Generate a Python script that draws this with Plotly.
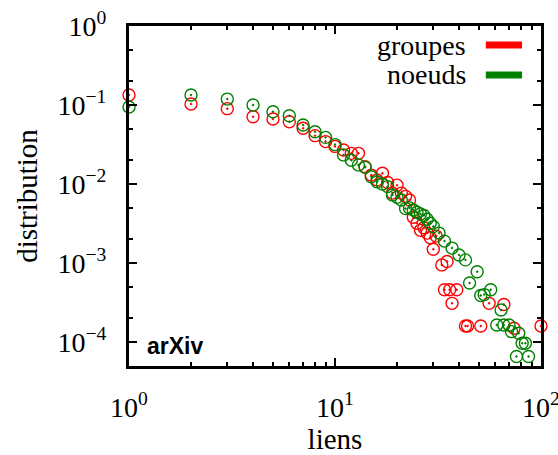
import plotly.graph_objects as go

# ---- data ----
groupes_name = "groupes"
noeuds_name = "noeuds"

groupes_x = [1, 2, 3, 4, 5, 6, 7, 8, 9, 10, 11, 12, 13, 14, 15, 16, 17, 18, 19, 20,
             21, 22, 23, 24, 25, 26, 27, 28, 29, 30, 31, 33, 34, 35, 36, 37, 39,
             43, 44, 51, 56, 66, 74, 100]
groupes_y = [0.134, 0.103, 0.090, 0.0712, 0.0666, 0.0616, 0.0508, 0.041, 0.0345, 0.030,
             0.027, 0.0245, 0.0245, 0.0166, 0.013, 0.0113, 0.0137, 0.0105, 0.0077, 0.0097,
             0.0077, 0.0070, 0.0063, 0.0038, 0.0032, 0.0026, 0.0028, 0.0024, 0.0021, 0.0015,
             0.0022, 0.00095, 0.00046, 0.00105, 0.00046, 0.00031, 0.00046,
             0.00016, 0.00016, 0.00016, 0.00031, 0.00030, 0.00015, 0.00016]

noeuds_x = [1, 2, 3, 4, 5, 6, 7, 8, 9, 10, 11, 12, 13, 14, 15, 16, 17, 18, 19, 20,
            21, 22, 23, 24, 25, 26, 27, 28, 29, 30, 32, 34, 37, 40, 43, 45, 49, 51,
            53, 57, 61, 64, 66, 70, 72, 76, 78, 81, 84, 87]
noeuds_y = [0.0945, 0.134, 0.119, 0.100, 0.0824, 0.0733, 0.056, 0.046, 0.039, 0.0316,
            0.0234, 0.020, 0.0175, 0.0163, 0.0124, 0.0107, 0.0100, 0.0093, 0.0073, 0.0068,
            0.0063, 0.0049, 0.0050, 0.0047, 0.0044, 0.0042, 0.0040, 0.0036, 0.0032, 0.0029,
            0.0024, 0.0019, 0.00155, 0.00127, 0.0011, 0.00056, 0.00078, 0.00039,
            0.0004, 0.00046, 0.000165, 0.000256, 0.000165, 0.000165, 0.000136, 0.000066,
            0.00013, 0.000097, 0.000097, 0.000066]

x_tickvals = [1, 10, 100]
x_ticktext = ["10<sup>0</sup>", "10<sup>1</sup>", "10<sup>2</sup>"]
y_tickvals = [1, 0.1, 0.01, 0.001, 0.0001]
y_ticktext = ["10<sup>0</sup>", "10<sup>\u22121</sup>", "10<sup>\u22122</sup>",
              "10<sup>\u22123</sup>", "10<sup>\u22124</sup>"]
x_minor = [k * 10 ** d for d in (0, 1) for k in range(2, 10)]
y_minor = [k * 10.0 ** d for d in (-5, -4, -3, -2, -1) for k in (2, 5)]

x_title = "liens"
y_title = "distribution"
label_text = "arXiv"

RED = "#ff0000"
GREEN = "#008000"
SERIF = "Liberation Serif"

fig = go.Figure()
fig.add_trace(go.Scatter(
    x=groupes_x, y=groupes_y, mode="markers", name=groupes_name, showlegend=False,
    cliponaxis=False,
    marker=dict(symbol="circle-open-dot", size=12, color=RED, line=dict(width=1.4, color=RED)),
))
fig.add_trace(go.Scatter(
    x=noeuds_x, y=noeuds_y, mode="markers", name=noeuds_name, showlegend=False,
    cliponaxis=False,
    marker=dict(symbol="circle-open-dot", size=12, color=GREEN, line=dict(width=1.4, color=GREEN)),
))

axis_common = dict(
    type="log", showgrid=False, zeroline=False, automargin=False,
    showline=True, linewidth=3, linecolor="black", mirror="allticks",
    ticks="inside", ticklen=8, tickwidth=2, tickcolor="black",
    tickmode="array", ticklabeloverflow="allow",
    tickfont=dict(family=SERIF, size=28, color="black"),
    title_font=dict(family=SERIF, size=29, color="black"),
)

fig.update_xaxes(
    **axis_common,
    range=[0, 2],
    tickvals=x_tickvals, ticktext=x_ticktext,
    ticklabelstandoff=14,
    minor=dict(tickmode="array", tickvals=x_minor, ticks="inside", ticklen=4,
               tickwidth=2, tickcolor="black", showgrid=False),
    title=dict(text=x_title, standoff=22),
)
fig.update_yaxes(
    **axis_common,
    range=[-4.301, 0],
    tickvals=y_tickvals, ticktext=y_ticktext,
    ticklabelstandoff=14,
    minor=dict(tickmode="array", tickvals=y_minor, ticks="inside", ticklen=4,
               tickwidth=2, tickcolor="black", showgrid=False),
    title=dict(text=y_title, standoff=12),
)

# legend drawn text-then-sample, as in the reference
legend_items = [(groupes_name, RED, 0.944), (noeuds_name, GREEN, 0.856)]
for name, col, yy in legend_items:
    fig.add_annotation(xref="paper", yref="paper", x=0.823, y=yy, text=name,
                       showarrow=False, xanchor="right", yanchor="middle",
                       font=dict(family=SERIF, size=28, color="black"))
    fig.add_shape(type="line", xref="paper", yref="paper", x0=0.866, x1=0.954,
                  y0=yy, y1=yy, line=dict(color=col, width=7))

fig.add_annotation(xref="paper", yref="paper", x=0.040, y=0.06, text="<b>%s</b>" % label_text,
                   showarrow=False, xanchor="left", yanchor="middle",
                   font=dict(family="Liberation Sans", size=23, color="black"))

fig.update_layout(
    width=558, height=455,
    margin=dict(l=129, r=17, t=26, b=89),
    paper_bgcolor="white", plot_bgcolor="white",
    showlegend=False,
)

fig.write_html("out.html")
